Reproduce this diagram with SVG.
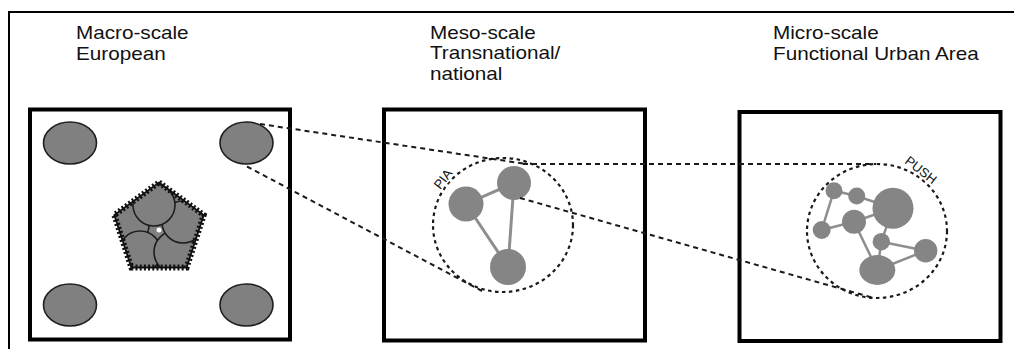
<svg xmlns="http://www.w3.org/2000/svg" width="1014" height="349" viewBox="0 0 1014 349">
<style>
.frame{fill:none;stroke:#000;stroke-width:2}
.box{fill:#fff;stroke:#000;stroke-width:4}
.title{font-family:"Liberation Sans",Arial,sans-serif;font-size:18px;fill:#111}
.lbl{font-family:"Liberation Sans",Arial,sans-serif;font-size:13px;fill:#111;stroke:#fff;stroke-width:3;paint-order:stroke;stroke-linejoin:round}
.cell{fill:#808080;stroke:#1e1e1e;stroke-width:1.6}
.node{fill:#858585}
.edge{stroke:#8e8e8e;stroke-width:3;fill:none}
.edge3{stroke:#8e8e8e;stroke-width:2.5;fill:none}
.dash{fill:none;stroke:#1a1a1a;stroke-width:2;stroke-dasharray:5 4}
.ring{fill:none;stroke:#1a1a1a;stroke-width:2.2;stroke-dasharray:3.5 3.5}
</style>
<defs>
<clipPath id="pent"><path d="M159,182.5 L203.7,215 L186.6,267.5 L131.4,267.5 L114.3,215 Z"/></clipPath>
</defs>
<rect width="1014" height="349" fill="#fff"/>
<path class="frame" d="M9,349 V12 H1014"/>
<g transform="translate(76,0) scale(1.15,1)">
<text class="title" x="0" y="39">Macro-scale</text>
<text class="title" x="0" y="60">European</text>
</g>
<g transform="translate(430,0) scale(1.15,1)">
<text class="title" x="0" y="39">Meso-scale</text>
<text class="title" x="0" y="59.5">Transnational/</text>
<text class="title" x="0" y="80">national</text>
</g>
<g transform="translate(773,0) scale(1.15,1)">
<text class="title" x="0" y="39">Micro-scale</text>
<text class="title" x="0" y="60">Functional Urban Area</text>
</g>

<g id="macro">
<rect class="box" x="30" y="109.5" width="260" height="230"/>
<ellipse class="cell" cx="70" cy="143" rx="26.5" ry="21"/>
<ellipse class="cell" cx="246.5" cy="143" rx="26.5" ry="21"/>
<ellipse class="cell" cx="70" cy="305" rx="26.5" ry="21"/>
<ellipse class="cell" cx="246.5" cy="305" rx="26.5" ry="21"/>
<g id="cluster">
<path d="M159,182.5 L203.7,215 L186.6,267.5 L131.4,267.5 L114.3,215 Z" fill="#808080"/>
<g clip-path="url(#pent)">
<circle class="cell" cx="128" cy="225" r="21"/>
<circle class="cell" cx="140" cy="252" r="21"/>
<circle class="cell" cx="175" cy="252" r="21"/>
<circle class="cell" cx="183" cy="222" r="21"/>
<circle class="cell" cx="154" cy="205" r="21"/>
</g>
<circle cx="159" cy="230" r="2.5" fill="#fff"/>
<path d="M159,182.5 L203.7,215 L186.6,267.5 L131.4,267.5 L114.3,215 Z" fill="none" stroke="#111" stroke-width="1.8"/>
<path d="M159,182.5 L203.7,215 L186.6,267.5 L131.4,267.5 L114.3,215 Z" fill="none" stroke="#111" stroke-width="6" stroke-dasharray="2 2.2"/>
</g>
</g>

<g id="meso">
<rect class="box" x="384" y="109.5" width="261" height="231"/>
<ellipse class="ring" cx="503" cy="225" rx="70" ry="67"/>
<g id="meso-net">
<line class="edge" x1="466" y1="204" x2="514" y2="183"/>
<line class="edge" x1="466" y1="204" x2="508" y2="267"/>
<line class="edge" x1="514" y1="183" x2="508" y2="267"/>
<circle class="node" cx="466" cy="204" r="17.5"/>
<circle class="node" cx="514" cy="183" r="17"/>
<circle class="node" cx="508" cy="267" r="18"/>
</g>
<text class="lbl" transform="translate(443,179) rotate(-53)" x="0" y="4.5" text-anchor="middle">PIA</text>
</g>

<g id="micro">
<rect class="box" x="739.5" y="112" width="261" height="229"/>
<ellipse class="ring" cx="877" cy="231" rx="70" ry="67"/>
<g id="micro-net">
<line class="edge3" x1="834" y1="190.7" x2="856.7" y2="196"/>
<line class="edge3" x1="834" y1="190.7" x2="821.7" y2="230"/>
<line class="edge3" x1="856.7" y1="196" x2="893" y2="208.3"/>
<line class="edge3" x1="821.7" y1="230" x2="854" y2="221.7"/>
<line class="edge3" x1="854" y1="221.7" x2="893" y2="208.3"/>
<line class="edge3" x1="854" y1="221.7" x2="877.3" y2="270"/>
<line class="edge3" x1="893" y1="208.3" x2="881.3" y2="241.7"/>
<line class="edge3" x1="881.3" y1="241.7" x2="925.7" y2="250.7"/>
<line class="edge3" x1="877.3" y1="270" x2="925.7" y2="250.7"/>
<line class="edge3" x1="881.3" y1="241.7" x2="877.3" y2="270"/>
<circle class="node" cx="834" cy="190.7" r="8.5"/>
<circle class="node" cx="856.7" cy="196" r="8.5"/>
<circle class="node" cx="893" cy="208.3" r="20.5"/>
<circle class="node" cx="854" cy="221.7" r="12"/>
<circle class="node" cx="821.7" cy="230" r="9"/>
<circle class="node" cx="881.3" cy="241.7" r="8.7"/>
<circle class="node" cx="925.7" cy="250.7" r="11.7"/>
<ellipse class="node" cx="877.3" cy="270" rx="18" ry="15"/>
</g>
<text class="lbl" transform="translate(921,170) rotate(38)" x="0" y="4.5" text-anchor="middle">PUSH</text>
</g>

<g id="connectors">
<line class="dash" x1="260" y1="124" x2="523" y2="163.5"/>
<line class="dash" x1="247" y1="166.5" x2="482" y2="291"/>
<line class="dash" x1="523" y1="164" x2="876" y2="164"/>
<line class="dash" x1="520" y1="198" x2="872" y2="297.5"/>
</g>
</svg>
